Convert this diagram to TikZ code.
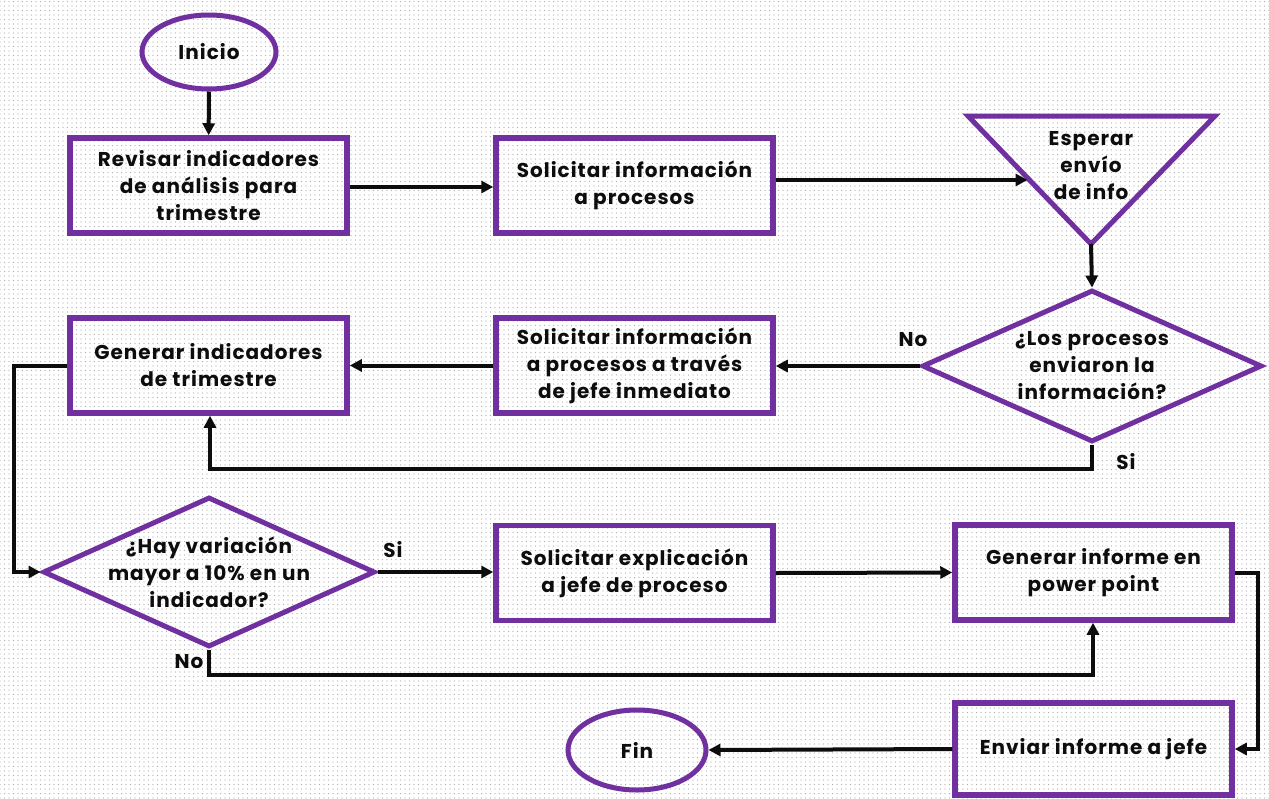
\documentclass[tikz,border=0pt]{standalone}
\usepackage{fontspec}
\setmainfont{Poppins}[LetterSpace=5]
\usetikzlibrary{arrows.meta,shapes.geometric,patterns.meta,calc}
\definecolor{flowpurple}{HTML}{7030A0}
\definecolor{inkblack}{HTML}{0D0D0D}

\begin{document}
\begin{tikzpicture}[x=1pt,y=-1pt,
  every node/.style={font=\bfseries\fontsize{20}{27}\selectfont, text=inkblack, align=center},
  stepbox/.style={draw=flowpurple, line width=5.5pt, rectangle, minimum width=277pt,
    minimum height=95pt, inner sep=0pt, outer sep=2.75pt},
  termbox/.style={draw=flowpurple, line width=5pt, ellipse, inner sep=0pt, outer sep=2.5pt},
  decbox/.style={draw=flowpurple, line width=5pt, diamond, inner sep=0pt, outer sep=2.5pt},
  tagtext/.style={inner sep=0pt},
  flow/.style={draw=inkblack, line width=4pt, -{Triangle[length=12pt,width=12pt]}}
]
% dotted paper background
\fill[white] (0,0) rectangle (1269,798);
\fill[pattern={Dots[distance=4.5pt,radius=0.65pt]}, pattern color=gray!65] (0,0) rectangle (1269,798);
\useasboundingbox (0,0) rectangle (1269,798);

% terminals
\node[termbox, minimum width=134pt, minimum height=74pt] (inicio) at (209,52) {Inicio};
\node[termbox, minimum width=138pt, minimum height=80pt] (fin) at (637,750) {Fin};

% process steps
\node[stepbox] (revisar) at (208.5,185.5) {Revisar indicadores\\de análisis para\\trimestre};
\node[stepbox] (solinfo) at (634.5,185.5) {Solicitar información\\a procesos};
\node[stepbox] (soljefe) at (634.5,365.5) {Solicitar información\\a procesos a través\\de jefe inmediato};
\node[stepbox] (genind) at (208.5,365.5) {Generar indicadores\\de trimestre};
\node[stepbox] (solexp) at (634.5,573) {Solicitar explicación\\a jefe de proceso};
\node[stepbox] (geninf) at (1093.5,572.5) {Generar informe en\\power point};
\node[stepbox, minimum height=92pt] (enviar) at (1093.5,749) {Enviar informe a jefe};

% wait step drawn as an inverted triangle
\coordinate (tl) at (968,116);
\coordinate (tr) at (1215,116);
\coordinate (tapex) at (1091,244);
\draw[flowpurple, line width=5pt, line join=miter] (tl) -- (tr) -- (tapex) -- cycle;
\node (esperar) at (1091,166) {Esperar\\envío\\de info};
\coordinate (tin) at ($(tl)!0.5!(tapex)+(-2,0)$);

% decisions: fixed-size diamonds with their questions set on top
\node[decbox, minimum width=340pt, minimum height=152pt] (dec1) at (1092,366) {};
\node (q1) at (dec1.center) {¿Los procesos\\enviaron la\\información?};
\node[decbox, minimum width=332pt, minimum height=150pt] (dec2) at (209,572) {};
\node (q2) at (dec2.center) {¿Hay variación\\mayor a 10\% en un\\indicador?};

% branch labels
\node[tagtext] (no1) at (913,340) {No};
\node[tagtext] (si1) at (1126,462) {Si};
\node[tagtext] (si2) at (393,550) {Si};
\node[tagtext] (no2) at (189,662) {No};

% connectors
\draw[flow] (inicio) -- (revisar);
\draw[flow] (revisar.east |- 0,187) -- (solinfo.west |- 0,187);
\draw[flow] (solinfo.east |- tin) -- (tin);
\draw[flow] (tapex) -- (dec1.north);
\draw[flow] (dec1.west) -- (soljefe.east |- dec1.west);
\draw[flow] (soljefe.west) -- (genind.east);
\draw[flow] (dec1.south) |- (210,469) -- (genind.south -| 210,0);
\draw[flow] (genind.west) -| (14,366) |- (dec2.west);
\draw[flow] (dec2.east) -- (solexp.west |- dec2.east);
\draw[flow] (solexp.east) -- (geninf.west);
\draw[flow] (dec2.south) |- (1093,675) -- (geninf.south -| 1093,0);
\draw[flow] (geninf.east) -| (1258,600) |- (enviar.east);
\draw[flow] (enviar.west) -- (fin.east);
\end{tikzpicture}
\end{document}
